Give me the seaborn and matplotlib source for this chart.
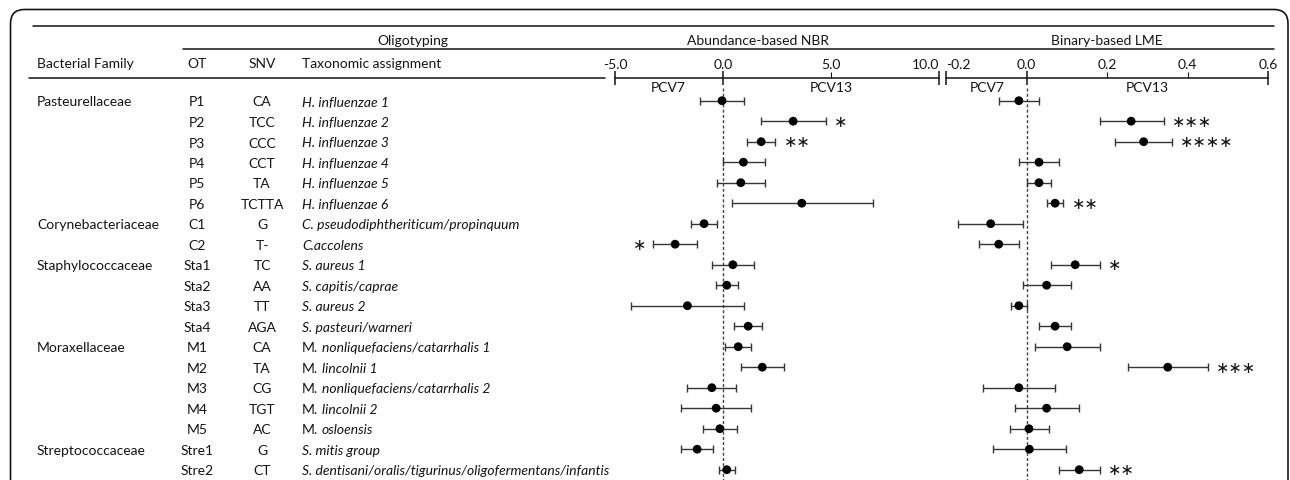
import numpy as np
import pandas as pd
import matplotlib
matplotlib.use("Agg")
import matplotlib.pyplot as plt
import matplotlib.transforms as mtransforms
from matplotlib.patches import FancyBboxPatch
from matplotlib.lines import Line2D
import seaborn as sns

# ---------------- data ----------------
families = ["Pasteurellaceae", "", "", "", "", "",
            "Corynebacteriaceae", "",
            "Staphylococcaceae", "", "", "",
            "Moraxellaceae", "", "", "", "",
            "Streptococcaceae", ""]
ot = ["P1", "P2", "P3", "P4", "P5", "P6", "C1", "C2", "Sta1", "Sta2", "Sta3", "Sta4",
      "M1", "M2", "M3", "M4", "M5", "Stre1", "Stre2"]
snv = ["CA", "TCC", "CCC", "CCT", "TA", "TCTTA", "G", "T-", "TC", "AA", "TT", "AGA",
       "CA", "TA", "CG", "TGT", "AC", "G", "CT"]
tax_roman = [""] * 12 + ["M."] * 5 + ["", ""]
tax_italic = ["H. influenzae 1", "H. influenzae 2", "H. influenzae 3", "H. influenzae 4",
              "H. influenzae 5", "H. influenzae 6", "C. pseudodiphtheriticum/propinquum",
              "C.accolens", "S. aureus 1", "S. capitis/caprae", "S. aureus 2",
              "S. pasteuri/warneri", "nonliquefaciens/catarrhalis 1", "lincolnii 1",
              "nonliquefaciens/catarrhalis 2", "lincolnii 2", "osloensis",
              "S. mitis group", "S. dentisani/oralis/tigurinus/oligofermentans/infantis"]

nbr_est = [-0.05, 3.24, 1.76, 0.94, 0.82, 3.64, -0.88, -2.22, 0.45, 0.17, -1.65, 1.16,
           0.70, 1.81, -0.52, -0.32, -0.15, -1.20, 0.17]
nbr_lo = [-1.06, 1.76, 1.11, 0.00, -0.26, 0.39, -1.48, -3.24, -0.52, -0.35, -4.24, 0.51,
          0.09, 0.85, -1.67, -1.94, -0.95, -1.93, -0.19]
nbr_hi = [0.97, 4.75, 2.41, 1.93, 1.93, 6.93, -0.28, -1.22, 1.44, 0.68, 0.97, 1.79,
          1.30, 2.83, 0.60, 1.30, 0.62, -0.46, 0.56]
nbr_sig = ["", "*", "**", "", "", "", "", "*", "", "", "", "", "", "", "", "", "", "", ""]

lme_est = [-0.019, 0.260, 0.291, 0.031, 0.031, 0.071, -0.089, -0.069, 0.121, 0.050, -0.019,
           0.071, 0.101, 0.351, -0.019, 0.050, 0.006, 0.007, 0.131]
lme_lo = [-0.069, 0.182, 0.220, -0.019, 0.001, 0.050, -0.169, -0.118, 0.061, -0.009, -0.039,
          0.031, 0.021, 0.251, -0.109, -0.029, -0.042, -0.082, 0.081]
lme_hi = [0.031, 0.341, 0.361, 0.081, 0.060, 0.091, -0.009, -0.019, 0.182, 0.111, 0.001,
          0.111, 0.182, 0.451, 0.071, 0.131, 0.057, 0.098, 0.182]
lme_sig = ["", "***", "****", "", "", "**", "", "", "*", "", "", "", "", "***", "", "", "", "", "**"]

nbr_ticks_major = [-5.0, 0.0, 10.0]
nbr_ticks_minor = [5.0]
lme_ticks_major = [-0.2, 0.0, 0.6]
lme_ticks_minor = [0.2, 0.4]

df = pd.DataFrame({"row": np.arange(len(ot)), "nbr": nbr_est, "nbr_lo": nbr_lo, "nbr_hi": nbr_hi,
                   "lme": lme_est, "lme_lo": lme_lo, "lme_hi": lme_hi})

# ---------------- style ----------------
sns.set_style("white")
plt.rcParams["font.family"] = ["Lato", "DejaVu Sans"]
FS = 10
INK = "#141414"
ECOL = "#353535"

W, H = 1290, 481
fig = plt.figure(figsize=(W / 100, H / 100), dpi=100)
fig.patch.set_facecolor("white")
pix = mtransforms.IdentityTransform()


def Y(y):
    return H - y


# rounded frame
frame = FancyBboxPatch((10.5, -60), 1277.5, Y(10.5) + 60,
                       boxstyle="round,pad=0,rounding_size=14",
                       transform=pix, fill=False, lw=1.2, ec=INK)
fig.add_artist(frame)

# header rules
for x0, x1, y in [(33, 1274, 27), (183, 1274, 50), (29, 605, 78.5)]:
    fig.add_artist(Line2D([x0, x1], [Y(y), Y(y)], transform=pix, color=INK, lw=1.1))

# header texts
hdr = dict(transform=pix, fontsize=FS, color=INK, va="baseline")
fig.text(413, Y(45.5), "Oligotyping", ha="center", **hdr)
fig.text(758, Y(45.5), "Abundance-based NBR", ha="center", **hdr)
fig.text(1107, Y(45.5), "Binary-based LME", ha="center", **hdr)
fig.text(37, Y(68.3), "Bacterial Family", ha="left", **hdr)
fig.text(197, Y(68.3), "OT", ha="center", **hdr)
fig.text(262, Y(68.3), "SNV", ha="center", **hdr)
fig.text(302, Y(68.3), "Taxonomic assignment", ha="left", **hdr)

# ---------------- forest axes ----------------
ROW0, DROW = 101.7, 20.5
y_top_pix = 79.3
ylim_top = (y_top_pix - ROW0) / DROW
ylim_bot = (H - ROW0) / DROW
ax_h = (H - y_top_pix) / H

ax1 = fig.add_axes([615 / W, 0, 324.3 / W, ax_h])
ax2 = fig.add_axes([946 / W, 0, 322 / W, ax_h])


def forest(ax, col, lo, hi, sig, xlim, major, minor, fmt, pcv, edge_align):
    ax.set_facecolor("none")
    est = df[col].values
    ax.errorbar(est, df["row"], xerr=[est - df[lo].values, df[hi].values - est],
                fmt="none", ecolor=ECOL, elinewidth=1.0, capsize=2.8, capthick=1.0, zorder=2)
    sns.scatterplot(data=df, x=col, y="row", ax=ax, color="black", s=40,
                    edgecolor="none", zorder=3, legend=False)
    ax.vlines(0, (89 - ROW0) / DROW, ylim_bot + 0.5, colors="#444444", lw=1.0,
              linestyles=(0, (2.2, 1.6)), zorder=1)
    for r, s in enumerate(sig):
        if not s:
            continue
        if est[r] < 0:
            ax.annotate("\u2217" * len(s), xy=(df[lo].values[r], r), xytext=(-4.5, 0),
                        textcoords="offset points", ha="right", va="center",
                        fontsize=11.5, family="DejaVu Sans", color=INK)
        else:
            ax.annotate("\u2217" * len(s), xy=(df[hi].values[r], r), xytext=(6.0, 0),
                        textcoords="offset points", ha="left", va="center",
                        fontsize=11.5, family="DejaVu Sans", color=INK)
    ax.set_xlim(*xlim)
    ax.set_ylim(ylim_bot, ylim_top)
    ax.set_xlabel("")
    ax.set_ylabel("")
    ax.set_yticks([])
    for s in ["left", "right", "bottom"]:
        ax.spines[s].set_visible(False)
    ax.spines["top"].set_linewidth(1.1)
    ax.spines["top"].set_color(INK)
    ax.xaxis.set_ticks_position("top")
    ax.set_xticks(major, [fmt.format(v) for v in major])
    ax.set_xticks(minor, [fmt.format(v) for v in minor], minor=True)
    ax.tick_params(axis="x", which="major", direction="inout", length=10.5, width=1.1,
                   pad=0.4, top=True, bottom=False, labeltop=True, labelbottom=False,
                   labelsize=FS, colors=INK)
    ax.tick_params(axis="x", which="minor", direction="out", length=4.5, width=0.8,
                   pad=1.2, top=True, bottom=False, labeltop=True, labelbottom=False,
                   labelsize=FS, colors=INK)
    for lab in ax.xaxis.get_majorticklabels():
        if lab.get_text() in edge_align:
            lab.set_ha(edge_align[lab.get_text()])
    ax.grid(False)
    yl = (88.5 - ROW0) / DROW
    for xv, txt in pcv:
        ax.text(xv, yl, txt, ha="center", va="center", fontsize=FS, color=INK)


forest(ax1, "nbr", "nbr_lo", "nbr_hi", nbr_sig, (-5, 10), nbr_ticks_major, nbr_ticks_minor,
       "{:.1f}", [(-2.55, "PCV7"), (5.0, "PCV13")], {"10.0": "right"})
forest(ax2, "lme", "lme_lo", "lme_hi", lme_sig, (-0.2, 0.6), lme_ticks_major, lme_ticks_minor,
       "{:.1f}", [(-0.098, "PCV7"), (0.30, "PCV13")], {"-0.2": "left"})

# ---------------- table rows ----------------
tr = mtransforms.blended_transform_factory(pix, ax1.transData)
BASE = 4.8 / DROW
for r in range(len(ot)):
    yb = r + BASE
    kw = dict(transform=tr, fontsize=FS, color=INK, va="baseline")
    if families[r]:
        fig.text(37, yb, families[r], ha="left", **kw)
    fig.text(197, yb, ot[r], ha="center", **kw)
    fig.text(262, yb, snv[r], ha="center", **kw)
    if tax_roman[r]:
        t1 = fig.text(302, yb, tax_roman[r], ha="left", **kw)
        fig.add_artist(plt.Annotation(tax_italic[r], xy=(1, 0), xycoords=t1,
                                      xytext=(2.6, 0), textcoords="offset points",
                                      ha="left", va="bottom", fontsize=FS, color=INK,
                                      style="italic"))
    else:
        fig.text(302, yb, tax_italic[r], ha="left", style="italic", **kw)

fig.savefig("out.png", dpi=100, facecolor="white")
